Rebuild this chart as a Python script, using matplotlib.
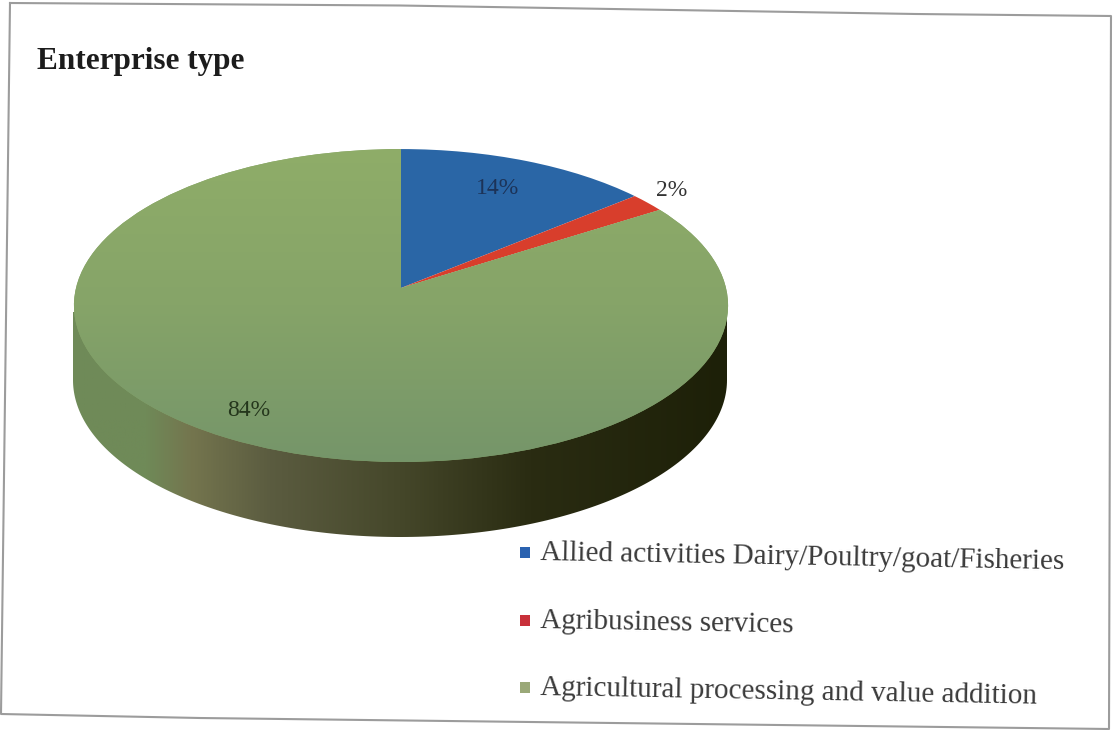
#!/usr/bin/env python3
import numpy as np
import matplotlib
matplotlib.use('Agg')
import matplotlib.pyplot as plt
from matplotlib.colors import LinearSegmentedColormap
from matplotlib.patches import Polygon, Rectangle
from matplotlib.transforms import Transform

title = 'Enterprise type'
categories = ['Allied activities Dairy/Poultry/goat/Fisheries',
              'Agribusiness services',
              'Agricultural processing and value addition']
shares = [14, 2, 84]
colors = ['#2a66a6', '#d83e2c', '#86a468']
legend_colors = ['#2a62b0', '#c8303a', '#9aa878']

W, H = 1116, 730
CX, CY = 402, 288      # apex of the pie in pixels
RX, RY, K = 325, 154.5, 0.112
DEPTH = 75


class Tilt(Transform):
    """Perspective from the unit pie circle to pixels."""
    input_dims = output_dims = 2

    def transform_non_affine(self, xy):
        xy = np.asarray(xy, dtype=float)
        d = 1 + K * xy[:, 1]
        return np.column_stack([CX + RX * xy[:, 0] / d - 1, CY - RY * xy[:, 1] / d])


plt.rcParams['font.family'] = ['Liberation Serif', 'DejaVu Serif']
fig = plt.figure(figsize=(W / 100, H / 100), dpi=100)
ax = fig.add_axes([0, 0, 1, 1])

wedges, _, pcts = ax.pie(shares, colors=colors, startangle=90, counterclock=False,
                         autopct='%d%%', wedgeprops={'linewidth': 0, 'zorder': 3})
ax.set_aspect('auto')
ax.axis('off')

tilt = Tilt()
for w in wedges:
    w.set_transform(tilt + ax.transData)

# Side wall of the pie
t = np.linspace(0, np.pi, 200)
side = np.column_stack([400 + 327 * np.cos(t), 305 + DEPTH + 157 * np.sin(t)])
side = np.vstack([[727, 312], side, [73, 312]])
wall = Polygon(side, closed=True, fc='none', ec='none')
ax.add_patch(wall)
wall_cmap = LinearSegmentedColormap.from_list('wall', [
    (0.00, '#6f8a58'), (0.11, '#6f8a58'), (0.18, '#74754e'), (0.30, '#5b5c40'),
    (0.50, '#45472a'), (0.70, '#2a2c12'), (1.00, '#1d2008')])
im = ax.imshow(np.linspace(0, 1, 256)[None, :], cmap=wall_cmap, extent=[73, 727, 540, 300],
               aspect='auto', zorder=2)
im.set_clip_path(wall)

# Top of the big slice runs lighter to darker downwards
top_cmap = LinearSegmentedColormap.from_list('top', ['#8fad69', '#86a468', '#75956a'])
im2 = ax.imshow(np.linspace(0, 1, 256)[:, None], cmap=top_cmap, extent=[70, 730, 465, 145],
                aspect='auto', zorder=4)
im2.set_clip_path(wedges[2])

# Percent labels
for txt, pos, col in zip(pcts, [(498, 189), (672, 190), (249, 411)],
                         ['#1c3358', '#333333', '#24361c']):
    txt.set_transform(ax.transData)
    txt.set_position(pos)
    txt.set_fontsize(17)
    txt.set_color(col)
    txt.set_ha('center')
    txt.set_va('center')
    txt.set_zorder(6)

ax.text(37, 61, title, fontsize=22.5, fontweight='bold', color='#1c1c1c',
        ha='left', va='center')

# Legend, tilted with the scan
for label, col, pos in zip(categories, legend_colors, [(540, 553), (540, 621), (540, 688)]):
    ax.add_patch(Rectangle((pos[0] - 20, pos[1] - 6), 10, 11, fc=col, ec='none'))
    ax.text(pos[0], pos[1], label, fontsize=21, color='#3a3a3a', rotation=-1,
            rotation_mode='anchor', ha='left', va='center')

# Scanned page frame
frame_x = [10, 400, 916, 1111, 1109, 200, 1, 10]
frame_y = [3, 5.5, 14, 16, 729, 718, 714, 3]
ax.plot(frame_x, frame_y, color='#9c9c9c', lw=1.5)

ax.set_xlim(0, W)
ax.set_ylim(H, 0)
fig.savefig('out.png', dpi=100, facecolor='white')
